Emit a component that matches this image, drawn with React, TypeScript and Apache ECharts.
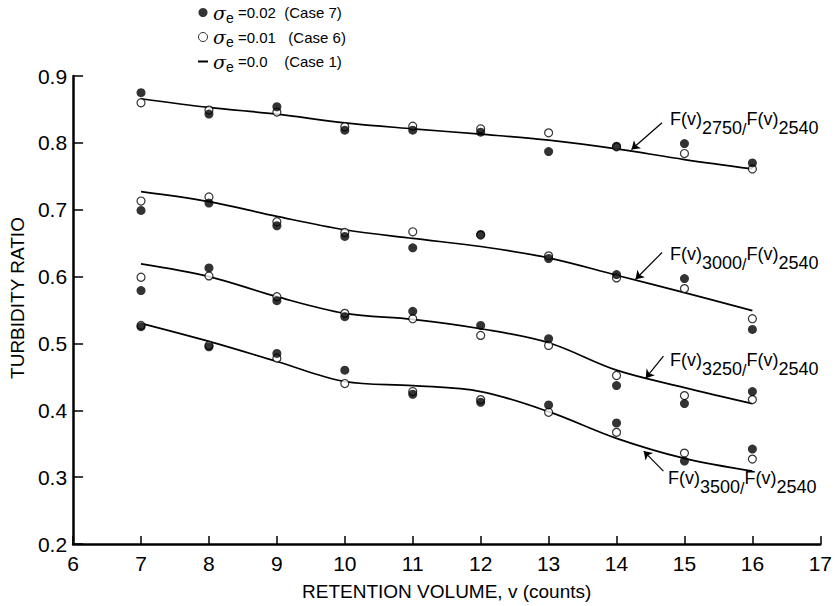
import React, { useEffect, useRef } from "react";
import * as echarts from "echarts";

// Retention volume (counts)
const vols = [7, 8, 9, 10, 11, 12, 13, 14, 15, 16];

// sigma_e = 0.02 (Case 7) – filled circles
const filled2750 = [0.875, 0.843, 0.854, 0.819, 0.819, 0.816, 0.787, 0.795, 0.799, 0.770];
const filled3000 = [0.699, 0.710, 0.676, 0.660, 0.643, 0.663, 0.627, 0.603, 0.597, 0.521];
const filled3250 = [0.579, 0.613, 0.564, 0.540, 0.548, 0.527, 0.507, 0.437, 0.410, 0.428];
const filled3500 = [0.525, 0.495, 0.485, 0.460, 0.424, 0.412, 0.408, 0.381, 0.324, 0.342];

// sigma_e = 0.01 (Case 6) – open circles
const open2750 = [0.860, 0.849, 0.846, 0.824, 0.825, 0.821, 0.815, 0.794, 0.784, 0.761];
const open3000 = [0.713, 0.719, 0.682, 0.666, 0.667, 0.662, 0.631, 0.598, 0.582, 0.537];
const open3250 = [0.599, 0.601, 0.570, 0.545, 0.537, 0.512, 0.497, 0.452, 0.422, 0.416];
const open3500 = [0.527, 0.497, 0.478, 0.440, 0.428, 0.416, 0.397, 0.367, 0.336, 0.327];

// sigma_e = 0.0 (Case 1) – curves
const curve2750 = [0.866, 0.853, 0.843, 0.830, 0.821, 0.813, 0.804, 0.791, 0.775, 0.761];
const curve3000 = [0.727, 0.712, 0.690, 0.670, 0.657, 0.645, 0.628, 0.602, 0.576, 0.549];
const curve3250 = [0.619, 0.600, 0.570, 0.545, 0.536, 0.522, 0.501, 0.460, 0.434, 0.410];
const curve3500 = [0.530, 0.503, 0.473, 0.443, 0.437, 0.428, 0.398, 0.358, 0.328, 0.309];

const curveLabels = ["2750", "3000", "3250", "3500"];
const refLabel = "2540";

// Annotation arrows [fromV, fromRatio, toV, toRatio]
const arrows = [
  [14.67, 0.830, 14.22, 0.790],
  [14.67, 0.636, 14.28, 0.596],
  [14.69, 0.481, 14.43, 0.448],
  [14.69, 0.309, 14.40, 0.339],
];

const xTicks = [6, 7, 8, 9, 10, 11, 12, 13, 14, 15, 16, 17];
const yTicks = [0.2, 0.3, 0.4, 0.5, 0.6, 0.7, 0.8, 0.9];

const NAME_F = "σe=0.02 (Case 7)";
const NAME_O = "σe=0.01 (Case 6)";
const NAME_L = "σe=0.0 (Case 1)";

const FONT = "Liberation Sans, Arial, sans-serif";

function pairs(ys: number[]) {
  return vols.map((v, i) => [v, ys[i]]);
}

export default function App() {
  const ref = useRef<HTMLDivElement>(null);
  useEffect(() => {
    if (!ref.current) return;
    const chart = echarts.init(ref.current, undefined, { renderer: "svg" });

    const curves = [curve2750, curve3000, curve3250, curve3500];
    const filledAll = [filled2750, filled3000, filled3250, filled3500].flatMap(pairs);
    const openAll = [open2750, open3000, open3250, open3500].flatMap(pairs);

    const legendText: Record<string, string> = {
      [NAME_F]: "{s|σ}{e|e}{t| =0.02  (Case 7)}",
      [NAME_O]: "{s|σ}{e|e}{t| =0.01   (Case 6)}",
      [NAME_L]: "{s|σ}{e|e}{t| =0.0    (Case 1)}",
    };

    const labelTops = [110, 245, 351, 469];
    const labelLefts = [670, 670, 670, 668];

    const annRich = {
      f: { fontSize: 18, fontFamily: FONT, lineHeight: 18, verticalAlign: "top", fill: "#000", color: "#000" },
      d: { fontSize: 18, fontFamily: FONT, lineHeight: 18, verticalAlign: "bottom", fill: "#000", color: "#000" },
      sl: { fontSize: 16, fontFamily: FONT, lineHeight: 16, verticalAlign: "bottom", fill: "#000", color: "#000" },
      sp: { fontSize: 2, lineHeight: 27 },
    };

    const option: any = {
      animation: false,
      backgroundColor: "#fff",
      grid: { left: 71, right: 12, top: 76, bottom: 61, containLabel: false },
      legend: {
        orient: "vertical",
        left: 198,
        top: 3,
        padding: 0,
        itemGap: 3,
        itemWidth: 10,
        itemHeight: 9,
        selectedMode: false,
        data: [
          { name: NAME_F, icon: "circle" },
          { name: NAME_O, icon: "circle", itemStyle: { color: "#fff", borderColor: "#000", borderWidth: 1 } },
          { name: NAME_L, icon: "path://M0,0H10V2H0Z", itemStyle: { color: "#000", borderWidth: 0 } },
        ],
        formatter: (name: string) => legendText[name] || name,
        textStyle: {
          color: "#000",
          fontFamily: FONT,
          rich: {
            s: { fontSize: 19, fontStyle: "italic", fontFamily: "DejaVu Serif, serif", lineHeight: 24, verticalAlign: "middle", color: "#000" },
            e: { fontSize: 14, fontFamily: FONT, lineHeight: 12, verticalAlign: "bottom", color: "#000" },
            t: { fontSize: 15, fontFamily: FONT, lineHeight: 24, verticalAlign: "middle", color: "#000" },
          },
        },
      },
      xAxis: {
        type: "value",
        min: xTicks[0],
        max: xTicks[xTicks.length - 1],
        interval: 1,
        name: "RETENTION VOLUME, v (counts)",
        nameLocation: "middle",
        nameGap: 38,
        nameTextStyle: { color: "#000", fontSize: 19, fontFamily: FONT },
        axisLine: { show: true, onZero: false, lineStyle: { color: "#000", width: 2.5 } },
        axisTick: { show: true, inside: true, length: 8, lineStyle: { color: "#000", width: 1.5 } },
        axisLabel: { color: "#000", fontSize: 21, fontFamily: FONT, margin: 9 },
        splitLine: { show: false },
      },
      yAxis: {
        type: "value",
        min: yTicks[0],
        max: yTicks[yTicks.length - 1],
        interval: 0.1,
        name: "TURBIDITY RATIO",
        nameLocation: "middle",
        nameGap: 46,
        nameTextStyle: { color: "#000", fontSize: 19, fontFamily: FONT, padding: [0, 0, 0, 24] },
        axisLine: { show: true, onZero: false, lineStyle: { color: "#000", width: 2.5 } },
        axisTick: { show: true, inside: true, length: 10, lineStyle: { color: "#000", width: 1.5 } },
        axisLabel: {
          color: "#000",
          fontSize: 21,
          fontFamily: FONT,
          margin: 6,
          formatter: (v: number) => v.toFixed(1),
        },
        splitLine: { show: false },
      },
      series: [
        ...curves.map((c, i) => ({
          type: "line",
          name: NAME_L,
          data: pairs(c),
          smooth: 0.35,
          symbol: "none",
          showSymbol: false,
          lineStyle: { color: "#000", width: 1.7 },
          itemStyle: { color: "#000" },
          z: 2,
          ...(i === 0
            ? {
                markLine: {
                  silent: true,
                  symbol: ["none", "arrow"],
                  symbolSize: 8,
                  label: { show: false },
                  lineStyle: { color: "#000", width: 1.2, type: "solid" },
                  data: arrows.map((a) => [
                    { coord: [a[0], a[1]] },
                    { coord: [a[2], a[3]] },
                  ]),
                },
              }
            : {}),
        })),
        {
          type: "scatter",
          name: NAME_O,
          data: openAll,
          symbol: "circle",
          symbolSize: 8,
          itemStyle: { color: "#fff", borderColor: "#000", borderWidth: 1.2 },
          z: 3,
        },
        {
          type: "scatter",
          name: NAME_F,
          data: filledAll,
          symbol: "circle",
          symbolSize: 9,
          itemStyle: { color: "#000" },
          z: 4,
        },
      ],
      graphic: curveLabels.map((lab, i) => ({
        type: "text",
        x: labelLefts[i],
        y: labelTops[i],
        style: {
          text: `{f|F(v)}{d|${lab}}{sl|/}{f|F(v)}{d|${refLabel}}{sp| }`,
          rich: annRich,
          fill: "#000",
          font: `18px ${FONT}`,
          align: "left",
          verticalAlign: "top",
          textAlign: "left",
          textVerticalAlign: "top",
        },
      })),
    };

    chart.setOption(option);
    return () => chart.dispose();
  }, []);

  return (
    <div
      ref={ref}
      style={{ position: "fixed", left: 0, top: 0, width: 835, height: 606, background: "#fff" }}
    />
  );
}
